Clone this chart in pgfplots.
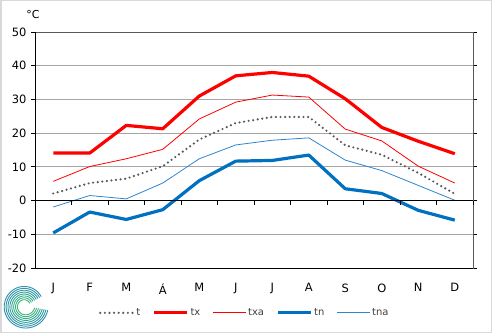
\documentclass[border=0pt]{standalone}
\usepackage{pgfplots}
\pgfplotsset{compat=1.18}
\usepackage{fontspec}
\setmainfont{DejaVu Sans}
\definecolor{exred}{HTML}{FF0000}
\definecolor{exblue}{HTML}{0070C0}
\definecolor{exblue2}{HTML}{2E86D0}
\definecolor{exgrey}{HTML}{595959}
\definecolor{logoA}{HTML}{2A86C0}
\definecolor{logoB}{HTML}{3CB878}
\begin{document}
\begin{tikzpicture}[x=1bp,y=1bp]
\draw[draw=black!15, line width=1.5bp, fill=white] (0.75,0.75) rectangle (491.25,332.25);
% logo (decorative)
\foreach \i in {0,...,7}{
  \pgfmathsetmacro\m{100-12*\i}
  \draw[line width=0.9bp, color=logoB!\m!logoA, smooth] plot[domain=30:350, samples=34, variable=\t]
    ({25+(5+1.9*\i+\t/360*5)*cos(\t)}, {27+(5+1.9*\i+\t/360*5)*sin(\t)});
}
\begin{axis}[at={(35bp,65bp)}, anchor=south west, scale only axis,
  width=438bp, height=236bp,
  xmin=-0.5, xmax=11.5, ymin=-20, ymax=50,
  ytick={-20,-10,0,10,20,30,40,50},
  yticklabels={-20,-10,0,10,20,30,40,50},
  xtick={0,...,11},
  xticklabels={J,F,M,Á,M,J,J,A,S,O,N,D},
  ymajorgrids, grid style={draw=black!35, line width=0.75bp},
  axis line style={draw=black!65, line width=0.75bp},
  x tick style={draw=none},
  y tick style={draw=black, line width=0.75bp},
  tick align=outside, major tick length=4bp,
  ticklabel style={font=\fontsize{11.5}{12}\selectfont, text=black},
  xticklabel style={yshift=-8bp},
  yticklabel style={xshift=-1bp},
  clip=false,
  legend style={at={(0.479,-0.19)}, anchor=center, draw=none, fill=none,
    legend columns=5, font=\fontsize{10}{11}\selectfont, text=black!75,
    /tikz/every even column/.append style={column sep=10bp},
    /tikz/every odd column/.append style={column sep=0bp}},
  legend image code/.code={\draw[#1] (0bp,0bp) -- (33bp,0bp);},
]
\addplot[exgrey, line width=2.4bp, line cap=round, dash pattern=on 0bp off 4.6bp] coordinates {
(0,2.1)(1,5.2)(2,6.5)(3,10.2)(4,18.1)(5,23.0)(6,24.8)(7,24.8)(8,16.4)(9,13.6)(10,8.2)(11,2.0)};
\addlegendentry{t}
\addplot[exred, line width=3.2bp, line join=round] coordinates {
(0,14.1)(1,14.1)(2,22.3)(3,21.3)(4,31.0)(5,37.0)(6,38.0)(7,36.9)(8,30.2)(9,21.7)(10,17.6)(11,13.9)};
\addlegendentry{tx}
\addplot[exred, line width=0.8bp] coordinates {
(0,5.7)(1,10.1)(2,12.4)(3,15.2)(4,24.2)(5,29.2)(6,31.3)(7,30.7)(8,21.2)(9,17.7)(10,10.2)(11,5.2)};
\addlegendentry{txa}
\addplot[exblue, line width=3.2bp, line join=round] coordinates {
(0,-9.6)(1,-3.4)(2,-5.6)(3,-2.7)(4,5.9)(5,11.7)(6,11.9)(7,13.5)(8,3.5)(9,2.1)(10,-2.9)(11,-5.8)};
\addlegendentry{tn}
\addplot[exblue2, line width=0.8bp] coordinates {
(0,-1.9)(1,1.5)(2,0.5)(3,5.2)(4,12.4)(5,16.5)(6,17.9)(7,18.6)(8,12.0)(9,8.9)(10,4.5)(11,0.1)};
\addlegendentry{tna}
\draw[black, line width=0.75bp] (axis cs:-0.5,50) -- (axis cs:-0.5,-20) -- (axis cs:11.5,-20);
\draw[black, line width=0.75bp] (axis cs:-0.5,0) -- (axis cs:11.5,0);
\pgfplotsinvokeforeach{-0.5,0.5,1.5,2.5,3.5,4.5,5.5,6.5,7.5,8.5,9.5,10.5,11.5}{
  \draw[black, line width=0.75bp] (axis cs:#1,0) -- ++(0bp,-4bp);
}
\end{axis}
\node[font=\fontsize{11}{12}\selectfont, anchor=center] at (33bp,318bp) {°C};
\end{tikzpicture}
\end{document}
